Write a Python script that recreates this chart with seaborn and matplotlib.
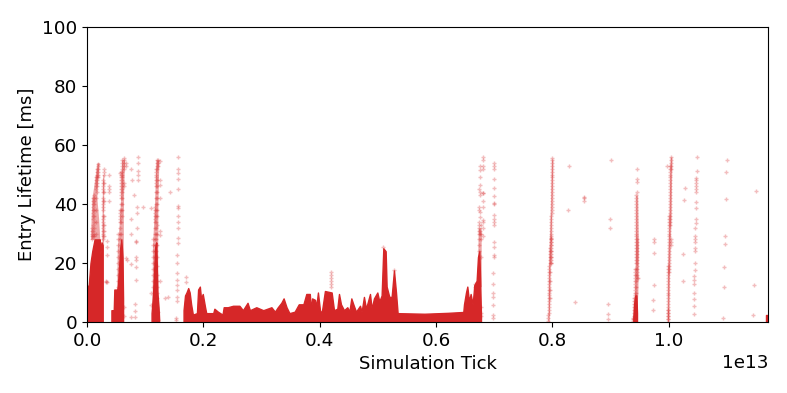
import pandas as pd
import matplotlib
matplotlib.use('Agg')
import matplotlib.pyplot as plt
import seaborn as sns

# x values are in units of 1e13 simulation ticks, y values in ms
SCALE = 1e13

# solid bands at the bottom of the plot (upper edge of the dense region)
band_a_ticks = [0.000, 0.003, 0.006, 0.009, 0.013, 0.022, 0.023, 0.025, 0.027]
band_a_ms = [12, 12.5, 20, 24, 28, 28, 23, 27, 26]

band_b_ticks = [0.042, 0.046, 0.047, 0.052, 0.053, 0.055, 0.057, 0.059, 0.061, 0.062]
band_b_ms = [4, 4, 11, 11, 12, 18, 25, 28, 22, 8]

band_c_ticks = [0.111, 0.113, 0.115, 0.117, 0.119, 0.121, 0.123, 0.124]
band_c_ms = [3, 8, 15, 25, 27, 10, 5, 1]

band_d_ticks = [0.166, 0.1685, 0.171, 0.174, 0.1765, 0.179, 0.182, 0.189, 0.191, 0.194, 0.196, 0.199,
                0.203, 0.205, 0.217, 0.219, 0.225, 0.233, 0.235, 0.242, 0.251, 0.262, 0.268, 0.276,
                0.280, 0.291, 0.303, 0.317, 0.323, 0.328, 0.334, 0.338, 0.343, 0.348, 0.357, 0.364,
                0.372, 0.377, 0.383, 0.385, 0.387, 0.392, 0.394, 0.397, 0.4005, 0.4034, 0.409, 0.4206,
                0.4246, 0.4303, 0.4332, 0.4366, 0.4418, 0.4475, 0.451, 0.4544, 0.4578, 0.4624, 0.4693,
                0.4721, 0.4761, 0.4796, 0.4865, 0.4893, 0.4933, 0.4991, 0.5025, 0.5065, 0.5094, 0.5134,
                0.5151, 0.5197, 0.5237, 0.5277, 0.5312, 0.534, 0.58, 0.62, 0.6469, 0.6481, 0.6515,
                0.6538, 0.6567, 0.6595, 0.663, 0.6658, 0.6698, 0.6721, 0.6744, 0.6761, 0.6773]
band_d_ms = [4, 9, 10, 11.5, 10, 6, 2.5, 3, 11, 12, 8, 9.5,
             5, 3, 3, 4.5, 3.5, 2.5, 5, 5, 5.5, 5.5, 4, 6.5,
             4, 5, 4, 5, 3.5, 5, 6.5, 8, 5, 3, 3.5, 6,
             6, 9.5, 9.5, 4, 8, 7.5, 5, 10, 4, 3, 10.5, 10,
             4, 4.5, 9.5, 6, 4, 5, 3.5, 8, 6, 3.5, 5.5,
             3.5, 8.5, 4.5, 9.5, 4.5, 8, 10, 7, 9, 25, 24,
             12, 8.5, 8.5, 17.5, 10, 3, 2.8, 3.1, 3.4, 6, 10,
             12, 7, 9.5, 6, 12.5, 14, 22, 24, 12, 2]

band_e_ticks = [0.9393, 0.9405, 0.9425, 0.9445, 0.9455]
band_e_ms = [2, 6, 9, 9, 3]

band_f_ticks = [1.167, 1.1707]
band_f_ms = [2.5, 2.5]

# slanted streaks where the points overlap too much to read one by one
streak_1_ms = [28, 35, 42, 48, 54]
streak_1_left = [0.006, 0.007, 0.0085, 0.013, 0.017]
streak_1_right = [0.022, 0.020, 0.017, 0.018, 0.021]

streak_2_ms = [26, 40, 50]
streak_2_left = [0.0255, 0.026, 0.027]
streak_2_right = [0.0285, 0.0285, 0.029]

streak_3_ms = [10, 25, 35, 45, 55]
streak_3_left = [0.051, 0.052, 0.056, 0.0585, 0.0595]
streak_3_right = [0.062, 0.0625, 0.0625, 0.063, 0.0645]

streak_4_ms = [5, 25, 40, 55]
streak_4_left = [0.112, 0.1125, 0.116, 0.1185]
streak_4_right = [0.122, 0.1215, 0.122, 0.1235]

streak_5_ms = [12, 32]
streak_5_left = [0.671, 0.6725]
streak_5_right = [0.678, 0.6775]

streak_6_ms = [0, 20, 35, 55]
streak_6_left = [0.7925, 0.7935, 0.796, 0.7985]
streak_6_right = [0.7945, 0.7965, 0.7985, 0.801]

streak_7_ms = [0, 10, 25, 43]
streak_7_left = [0.9385, 0.9415, 0.943, 0.9435]
streak_7_right = [0.9445, 0.947, 0.948, 0.9465]

streak_8_ms = [0, 18, 36, 56]
streak_8_left = [0.9975, 0.998, 1.0005, 1.0025]
streak_8_right = [1.0, 1.0015, 1.004, 1.0055]

# scattered '+' markers, one tick value per column of points
column_ticks = [
    0.008, 0.0103, 0.0126, 0.0149, 0.0166, 0.0195, 0.027, 0.0287, 0.033, 0.034, 0.0378,
    0.0533, 0.0562, 0.0585, 0.0607, 0.063, 0.0665, 0.0688, 0.075, 0.0762, 0.0775, 0.0808,
    0.083, 0.0845, 0.086, 0.0877, 0.0963,
    0.1094, 0.1135, 0.1163, 0.1186, 0.121, 0.1226, 0.126, 0.1335, 0.139, 0.142, 0.1536, 0.1553, 0.157, 0.1696,
    0.4194, 0.5094, 0.5283, 0.667, 0.6733, 0.6756, 0.678, 0.6802, 0.6813, 0.6985, 0.7004,
    0.793, 0.7945, 0.796, 0.7972, 0.7985, 0.799, 0.8, 0.8274, 0.8291, 0.8394, 0.8549, 0.8962, 0.8996, 0.9013,
    0.9392, 0.9409, 0.9426, 0.9443, 0.9455, 0.946, 0.9478, 0.9735, 0.9752,
    0.9976, 0.9982, 0.9993, 1.001, 1.0028, 1.0045, 1.0251, 1.0268, 1.0285,
    1.044, 1.0457, 1.047, 1.0475, 1.0492, 1.0939, 1.0956, 1.0973, 1.0991, 1.1008, 1.1455, 1.1472, 1.1506,
]
column_ms = [
    [28, 29, 30, 31, 32],
    [29, 31, 33, 35, 36, 37, 38, 39, 40, 41, 42],
    [29, 30, 32, 34, 36, 38, 40, 41, 42, 43],
    [30, 34, 38, 42, 45, 46, 47, 48, 49],
    [44, 46, 47, 48, 49, 50, 51, 52],
    [49, 50, 51, 52, 53, 53.5],
    [28, 29, 30, 31, 32, 33, 34, 35, 36, 38, 39, 40, 41, 42, 44, 45, 46, 47, 48],
    [29, 31, 33, 36, 41, 44, 47, 50, 51, 52],
    [13.5, 14],
    [13.7, 22.7, 25.5, 27.5],
    [41, 44, 45, 46, 50],
    [12, 14, 16, 18, 20, 22, 24, 26, 28, 30],
    [28, 30, 32, 34, 35, 36, 37, 38, 50.4],
    [30, 34, 38, 40, 42, 43, 44, 45, 46, 47, 48, 49, 50, 51],
    [36, 38, 40, 42, 44, 45, 46, 47, 48, 49, 50, 51, 52, 53, 54, 55],
    [2, 5, 46, 47, 52, 53, 54, 55, 55.5],
    [21.6, 53, 54],
    [21],
    [1.6, 19.5, 30, 35],
    [52],
    [48],
    [43],
    [1.8, 3.7, 6],
    [14.2, 18.8, 21, 22, 27, 27.6],
    [32, 37, 39],
    [48, 50, 51.3, 53.8, 55.8],
    [39],
    [5.8, 9.7, 38.5],
    [12, 14, 16, 18, 20, 22, 24, 26, 28],
    [14, 18, 20, 22, 24, 26, 28, 30, 32, 34, 35, 36, 37, 38, 39],
    [24, 26, 28, 30, 32, 34, 36, 38, 40, 42, 44, 46, 47, 48, 49, 50, 51, 52],
    [8, 10, 12, 14, 16, 19, 22, 26, 30, 33, 36, 38, 40, 42, 44, 46, 48, 52, 53, 54, 55],
    [0.7, 3.3, 53, 54, 55],
    [14, 29.5, 31, 42, 46.5, 48, 54.5],
    [8],
    [8.4],
    [44],
    [0.7, 1.5],
    [7, 8.6, 10.8, 12.5, 14.2, 16.5, 20, 22.7],
    [26.7, 28.4, 31.8, 34, 36, 38.5, 39.4, 45, 48.4, 50.4, 51.8, 55.8],
    [13.5, 15.3],
    [12, 13, 14, 15, 16, 17],
    [25.5],
    [17.7],
    [12, 13],
    [24, 26, 28, 30, 31, 32, 33, 34, 38, 39, 45],
    [30, 31, 35.7, 37.4, 43, 44, 46.6, 49, 51.5, 53],
    [2, 3, 5, 22, 28, 30, 33],
    [29, 31.7, 34, 34.6, 39, 41, 43.6],
    [43.6, 51.7, 53, 55, 55.8],
    [1.2, 2.4, 5.8, 8.6, 10, 13, 16.5],
    [22, 22.7, 25.3, 27.2, 32.8, 34, 35, 36.3, 40, 40.5, 42.8, 45.5, 48.4, 51.8, 52.8, 53.8],
    [0.5, 1.5, 2.5],
    [3, 4, 5, 6, 7, 8, 9, 10, 11, 12, 13, 14, 15, 16, 17, 18, 19],
    [8, 11, 14, 17, 20, 21, 22, 23, 24, 25],
    [20, 21, 22, 23, 24, 25, 26, 27, 28, 29, 30, 31, 32, 33, 34, 35, 36],
    [20, 22, 24, 26, 27, 28, 28.5],
    [37, 38, 39, 40, 41, 42, 43, 44, 45, 46, 47, 48, 49, 50, 51, 52],
    [53, 54, 55, 55.5],
    [38],
    [53],
    [6.7],
    [41, 42, 42.5],
    [0.9, 2.6, 6],
    [31.8, 34.8],
    [54.8],
    [0.5, 1, 1.5],
    [1, 2, 3, 4, 5, 6, 7, 8],
    [4, 5, 6, 7, 8, 9, 10, 11, 12, 13, 14, 15, 16, 17, 18],
    [10, 12, 14, 16, 18, 20, 21, 22, 23, 24, 25, 26, 27, 28, 29, 30, 31, 32, 33, 34, 35, 36, 37, 38, 39, 40, 41, 42, 43],
    [15, 16, 17, 18, 19, 20, 21, 22, 23, 24, 25, 26, 27, 28],
    [44.2, 47.6, 48.4, 51.8],
    [15],
    [4, 7.3],
    [12.4, 23.3, 27, 28],
    [53],
    [0, 1, 2, 3, 4],
    [1, 2, 3, 4, 5, 6, 7, 8, 9, 10, 11, 12, 13, 14, 15, 16, 17, 18, 19],
    [17, 18, 19, 20, 21, 22, 23, 24, 25, 26, 27, 28, 29, 30, 31, 32, 33, 34, 35, 36],
    [33, 34, 35, 36, 37, 38, 39, 40, 41, 42, 43, 44, 45, 46, 47, 48, 49, 50, 51, 52, 53],
    [26, 27, 28, 52, 53, 54, 55, 56],
    [13.8, 23],
    [41.2],
    [45.3],
    [2.8, 5.5, 7.7, 10, 12.8, 14.2, 15.6],
    [17.6, 20, 24, 25, 27, 28, 29, 31.8],
    [33.7, 35],
    [38.8, 40.6, 44.2, 45, 46, 47, 48, 48.7],
    [51.3, 55.8],
    [1.2],
    [12, 18.5],
    [26.3, 29],
    [41.6, 50.7],
    [55],
    [2.3],
    [12.4],
    [44.5],
]

bands = [
    (band_a_ticks, band_a_ms),
    (band_b_ticks, band_b_ms),
    (band_c_ticks, band_c_ms),
    (band_d_ticks, band_d_ms),
    (band_e_ticks, band_e_ms),
    (band_f_ticks, band_f_ms),
]
streaks = [
    (streak_1_ms, streak_1_left, streak_1_right),
    (streak_2_ms, streak_2_left, streak_2_right),
    (streak_3_ms, streak_3_left, streak_3_right),
    (streak_4_ms, streak_4_left, streak_4_right),
    (streak_5_ms, streak_5_left, streak_5_right),
    (streak_6_ms, streak_6_left, streak_6_right),
    (streak_7_ms, streak_7_left, streak_7_right),
    (streak_8_ms, streak_8_left, streak_8_right),
]

points = pd.DataFrame({'tick': column_ticks, 'lifetime': column_ms}).explode('lifetime')
points['tick'] = points['tick'].astype(float) * SCALE
points['lifetime'] = points['lifetime'].astype(float)

sns.set_theme(style='ticks', rc={'axes.edgecolor': 'black', 'xtick.color': 'black', 'ytick.color': 'black',
                                 'text.color': 'black', 'axes.labelcolor': 'black'})
plt.rcParams['font.family'] = ['DejaVu Sans']

fig, ax = plt.subplots(figsize=(7.87, 3.93), dpi=100)
fig.subplots_adjust(left=87 / 787, right=768 / 787, top=1 - 27 / 393, bottom=1 - 322 / 393)

for band_ticks, band_ms in bands:
    ax.fill_between([t * SCALE for t in band_ticks], band_ms, 0, color='tab:red', linewidth=1.0)

for streak_ms, streak_left, streak_right in streaks:
    ax.fill_betweenx(streak_ms, [t * SCALE for t in streak_left], [t * SCALE for t in streak_right],
                     color='tab:red', alpha=0.4, linewidth=0)

sns.scatterplot(data=points, x='tick', y='lifetime', marker='+', s=7, linewidth=1.0, alpha=0.3,
                color='#d62728', edgecolor='#d62728', legend=False, ax=ax)

ax.set_xlim(0, 1.1707 * SCALE)
ax.set_ylim(0, 100)
ax.set_xlabel('Simulation Tick', fontsize=13)
ax.set_ylabel('Entry Lifetime [ms]', fontsize=13)
ax.tick_params(labelsize=13.2, length=3.5, width=0.8)
ax.xaxis.get_offset_text().set_fontsize(13.2)
for spine in ax.spines.values():
    spine.set_linewidth(0.8)

fig.savefig('out.png', dpi=100)
